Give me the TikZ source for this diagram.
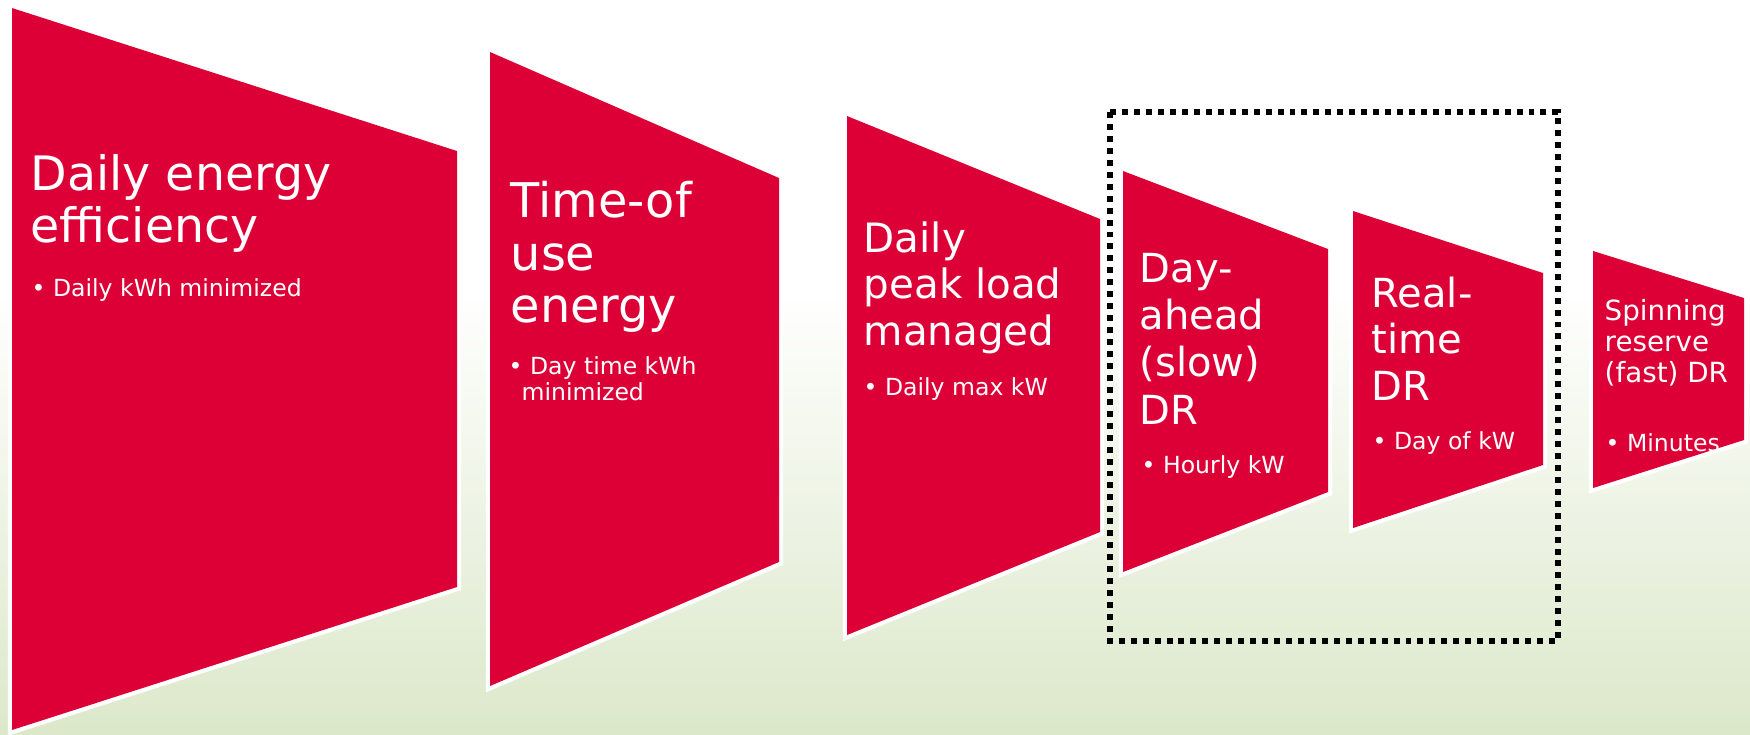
\documentclass[tikz,border=0pt]{standalone}
\usepackage{fontspec}
\setmainfont{DejaVu Sans}
\usepackage{xcolor}
\definecolor{panelred}{RGB}{220,0,54}
\definecolor{meadow}{RGB}{220,232,202}

\begin{document}
\begin{tikzpicture}[
    x=0.1mm, y=-0.1mm,
    panel/.style={fill=panelred, preaction={draw=white, line width=2.4pt}},
    head/.style={anchor=base west, align=left, inner sep=0pt, text=white},
    point/.style={anchor=base west, align=left, inner sep=0pt, text=white, font=\fontsize{6.7}{7.3}\selectfont},
    dotframe/.style={draw=black, line width=1.6pt, dash pattern=on 1.7pt off 1.7pt}
  ]
    \useasboundingbox (0,0) rectangle (1750,734);
    % background
    \fill[white] (0,0) rectangle (1750,734);
    \shade[top color=white, bottom color=meadow] (0,290) rectangle (1750,734);

    % panels
    \fill[panel] (12,8) -- (457,151) -- (457,587) -- (12,730) -- cycle;
    \fill[panel] (490,52) -- (779,178) -- (779,562) -- (490,686) -- cycle;
    \fill[panel] (847,116) -- (1100,219) -- (1100,532) -- (847,635) -- cycle;
    \fill[panel] (1123,171) -- (1328,249) -- (1328,492) -- (1123,572) -- cycle;
    \fill[panel] (1353,211) -- (1543,273) -- (1543,465) -- (1353,528) -- cycle;
    \fill[panel] (1593,251) -- (1744,298) -- (1744,440) -- (1593,488) -- cycle;

    % DR group
    \draw[dotframe] (1110,112) rectangle (1558,641);

    % titles sit on the baseline of their last line
    \node[head, font=\fontsize{13.5}{14.6}\selectfont] (eff) at (30,242) {Daily energy\\efficiency};
    \node[point] (effkwh) at (31,296) {\textbullet\ Daily kWh minimized};

    \node[head, font=\fontsize{13.6}{14.8}\selectfont] (tou) at (510,322) {Time-of\\use\\energy};
    \node[point] (toukwh) at (508,400) {\textbullet\ Day time kWh\\\hspace*{3.7pt}minimized};

    \node[head, font=\fontsize{11.5}{13.1}\selectfont] (peak) at (863,345) {Daily\\peak load\\managed};
    \node[point] (peakkw) at (863,395) {\textbullet\ Daily max kW};

    \node[head, font=\fontsize{11.4}{13.4}\selectfont] (dayahead) at (1139,424) {Day-\\ahead\\(slow)\\DR};
    \node[point] (dayaheadkw) at (1141,473) {\textbullet\ Hourly kW};

    \node[head, font=\fontsize{11.4}{13.1}\selectfont] (realtime) at (1371,400) {Real-\\time\\DR};
    \node[point] (realtimekw) at (1372,449) {\textbullet\ Day of kW};

    \node[head, font=\fontsize{7.9}{8.7}\selectfont] (spin) at (1604,382) {Spinning\\reserve\\(fast) DR};
    \node[point] (spinmin) at (1605,451) {\textbullet\ Minutes};
\end{tikzpicture}
\end{document}
